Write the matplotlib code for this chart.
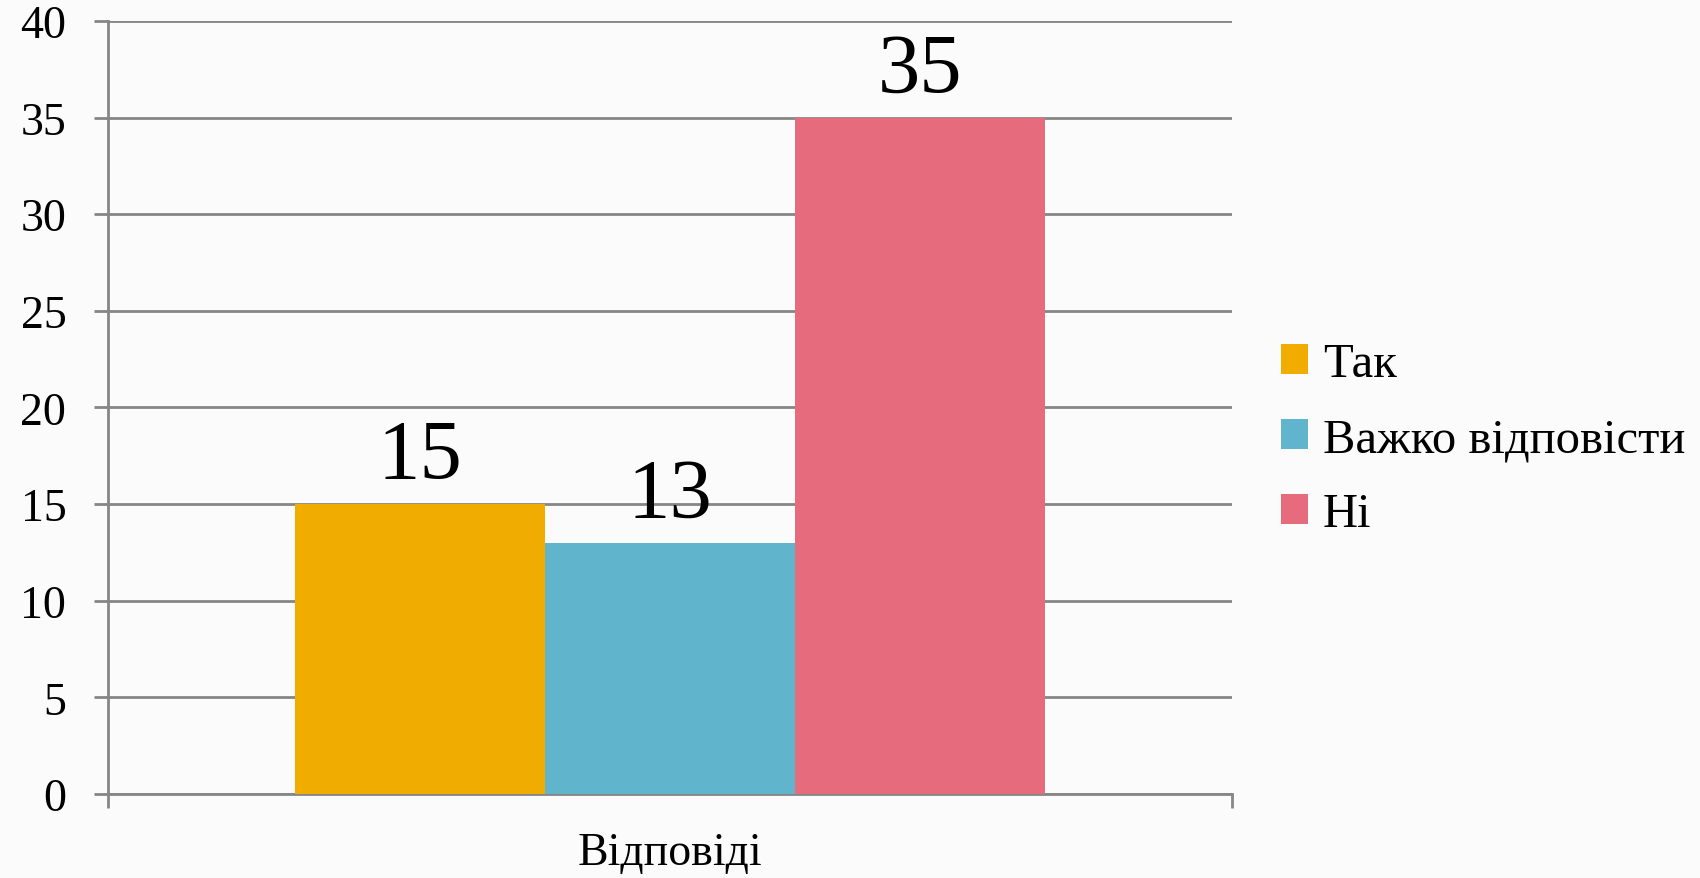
import matplotlib.pyplot as plt

categories = ["Відповіді"]
series = ["Так", "Важко відповісти", "Ні"]
values = [15, 13, 35]
colors = ["#F0AD00", "#60B5CC", "#E66C7D"]
yticks = [0, 5, 10, 15, 20, 25, 30, 35, 40]

plt.rcParams['font.family'] = ['Liberation Serif', 'DejaVu Serif']

fig = plt.figure(figsize=(17, 8.79), dpi=100)
fig.patch.set_facecolor("#fbfbfb")
ax = fig.add_axes([0.0635, 0.0956, 0.6612, 0.8794])
ax.set_facecolor("none")

w = 0.2224
grid_c = "#868686"
for i, (name, v, c) in enumerate(zip(series, values, colors)):
    x = (i - 1) * w
    ax.bar(x, v, width=w, color=c, label=name, zorder=3)
    ax.annotate(str(v), (x, v), xytext=(0, 6), textcoords="offset points",
                ha="center", va="bottom", fontsize=61, zorder=4)

ax.set_xlim(-0.5, 0.5)
ax.set_ylim(0, 40)
ax.set_yticks(yticks)
ax.set_yticklabels([str(t) for t in yticks], fontsize=33)
ax.set_xticks([0])
ax.set_xticklabels(categories, fontsize=33)
ax.set_xticks([-0.5, 0.5], minor=True)
ax.tick_params(axis="x", which="major", length=0, pad=27)
ax.tick_params(axis="x", which="minor", length=10, width=2, color=grid_c, direction="out")
ax.tick_params(axis="y", length=10, width=2, color=grid_c, pad=20)

ax.yaxis.grid(True, color=grid_c, linewidth=2, zorder=1)
ax.set_axisbelow(True)
for s in ["top", "right"]:
    ax.spines[s].set_visible(False)
for s in ["left", "bottom"]:
    ax.spines[s].set_color(grid_c)
    ax.spines[s].set_linewidth(2)

leg = fig.legend(*ax.get_legend_handles_labels(), loc="center left",
                 bbox_to_anchor=(1281 / 1700, 1 - 440 / 879), frameon=False,
                 fontsize=35, handlelength=0.56, handleheight=0.56,
                 handletextpad=0.3, labelspacing=0.64, borderpad=0,
                 borderaxespad=0)

fig.savefig("out.png", dpi=100, facecolor=fig.get_facecolor())
